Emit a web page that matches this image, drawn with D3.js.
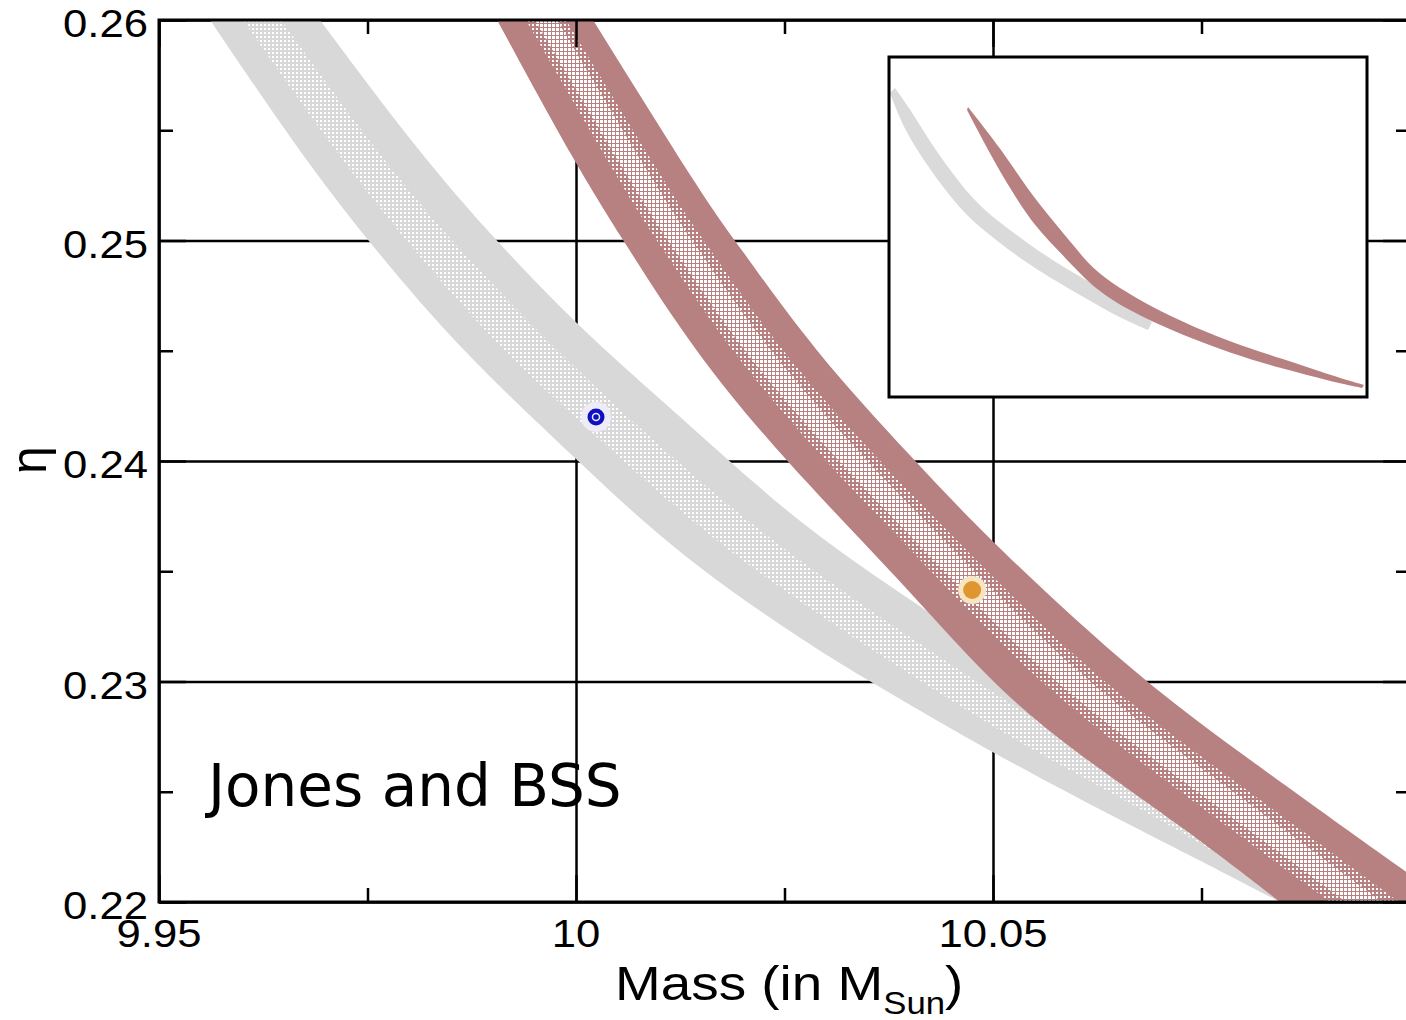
<!DOCTYPE html>
<meta charset="utf-8">
<title>Mass vs eta</title>
<style>

body {
  margin: 0;
  background: #fff;
}

svg {
  display: block;
  font-family: "Liberation Sans", Arial, sans-serif;
}

.grid line {
  stroke: #000;
  stroke-width: 2.5;
}

.grid path {
  display: none;
}

.ticks line {
  stroke: #000;
  stroke-width: 2.5;
}

</style>
<body>
<script src="https://d3js.org/d3.v7.min.js"></script>
<script>

// axis values
var xMajor = [9.95, 10, 10.05, 10.1];
var xMinor = [9.975, 10.025, 10.075];
var yMajor = [0.22, 0.23, 0.24, 0.25, 0.26];
var yMinor = [0.225, 0.235, 0.245, 0.255];
var xLabels = ["9.95", "10", "10.05"];
var yLabels = ["0.22", "0.23", "0.24", "0.25", "0.26"];

// grey band (mass, eta) edges
var greyUpper = [[9.96930, 0.26], [9.98094, 0.25410], [9.99029, 0.25002], [10.00012, 0.24617],
  [10.00887, 0.24322], [10.01811, 0.24009], [10.02686, 0.23719], [10.03645, 0.23460],
  [10.05084, 0.23098], [10.06882, 0.22689], [10.08681, 0.22281], [10.09952, 0.22009]];
var greyLower = [[9.95612, 0.26], [9.96667, 0.25410], [9.97494, 0.25002], [9.98609, 0.24503],
  [10.00012, 0.24005], [10.01247, 0.23565], [10.02890, 0.23143], [10.03561, 0.22993],
  [10.04988, 0.22676], [10.06679, 0.22340], [10.07638, 0.22159], [10.08441, 0.22]];
var greyCoreUpper = [[9.96463, 0.26], [9.97590, 0.25410], [9.98489, 0.25002], [9.99748, 0.24503],
  [10.01175, 0.24005], [10.02566, 0.23565], [10.04820, 0.22993], [10.06139, 0.22676],
  [10.07782, 0.22340], [10.09161, 0.22009]];
var greyCoreLower = [[9.96007, 0.26], [9.97098, 0.25410], [9.97950, 0.25002], [9.99089, 0.24503],
  [10.00552, 0.24005], [10.01859, 0.23565], [10.04149, 0.22993], [10.05516, 0.22676],
  [10.07194, 0.22340], [10.08561, 0.22009]];

// brown band edges
var brownUpper = [[10.00204, 0.26], [10.01547, 0.25184], [10.01906, 0.25002], [10.02842, 0.24503],
  [10.04041, 0.24009], [10.04988, 0.23628], [10.06799, 0.22998], [10.08082, 0.22644],
  [10.09964, 0.22132], [10.1048, 0.22]];
var brownLower = [[9.99053, 0.26], [10.00012, 0.25333], [10.00564, 0.25002], [10.01403, 0.24503],
  [10.02482, 0.24009], [10.03885, 0.23460], [10.04964, 0.22998], [10.05887, 0.22703],
  [10.07326, 0.22327], [10.08441, 0.22]];
var brownCoreUpper = [[9.99880, 0.26], [10.01187, 0.25184], [10.01535, 0.25002], [10.02434, 0.24503],
  [10.03609, 0.24009], [10.05024, 0.23460], [10.06283, 0.22998], [10.07878, 0.22553],
  [10.09868, 0.22]];
var brownCoreLower = [[9.99400, 0.26], [10.00647, 0.25184], [10.00971, 0.25002], [10.01835, 0.24503],
  [10.02950, 0.24009], [10.04365, 0.23460], [10.05516, 0.22998], [10.07050, 0.22553],
  [10.09041, 0.22]];
var brownMidUpper = [[9.99772, 0.26], [10.01055, 0.25184], [10.01391, 0.25002], [10.02290, 0.24503],
  [10.03453, 0.24009], [10.04868, 0.23460], [10.06103, 0.22998], [10.07686, 0.22553],
  [10.09664, 0.22]];
var brownMidLower = [[9.99508, 0.26], [10.00779, 0.25184], [10.01103, 0.25002], [10.01978, 0.24503],
  [10.03106, 0.24009], [10.04520, 0.23460], [10.05695, 0.22998], [10.07254, 0.22553],
  [10.09233, 0.22]];

// marked points
var bluePoint = [10.0024, 0.2420];
var orangePoint = [10.0475, 0.23415];

// inset (wider view)
var insetMass = [9.9, 10.5];
var insetEta = [0.16, 0.27];
var insetGreyUpper = [[9.90753, 0.25997], [9.92887, 0.25221], [9.94770, 0.24412], [9.96904, 0.23603],
  [9.99163, 0.22826], [10.01673, 0.22115], [10.04309, 0.21565], [10.07196, 0.21015],
  [10.10460, 0.20432], [10.13849, 0.19915], [10.16987, 0.19462], [10.20000, 0.18976],
  [10.23012, 0.18426]];
var insetGreyLower = [[9.90126, 0.25835], [9.91506, 0.24897], [9.93264, 0.24088], [9.95397, 0.23279],
  [9.97531, 0.22535], [10.00042, 0.21791], [10.02803, 0.21209], [10.05690, 0.20626],
  [10.09456, 0.19979], [10.12845, 0.19462], [10.15983, 0.19009], [10.19247, 0.18524],
  [10.22510, 0.18168]];
var insetBrownUpper = [[9.99916, 0.25382], [10.04184, 0.23991], [10.07447, 0.22697], [10.10711, 0.21662],
  [10.13221, 0.20885], [10.15857, 0.20044], [10.20878, 0.19203], [10.26777, 0.18426],
  [10.32802, 0.17779], [10.39455, 0.17229], [10.45354, 0.16712], [10.49622, 0.16388]];
var insetBrownLower = [[9.99791, 0.25285], [10.02552, 0.23926], [10.05439, 0.22632], [10.08451, 0.21468],
  [10.11715, 0.20626], [10.16234, 0.19365], [10.21506, 0.18621], [10.26777, 0.18006],
  [10.32802, 0.17424], [10.39455, 0.16906], [10.45354, 0.16518], [10.49371, 0.16291]];

var grey = "#d8d8d8",
    brown = "#b88181";

var margin = {top: 20, left: 159},
    width = 1251,
    height = 882;

var x = d3.scaleLinear()
    .domain([9.95, 10.1])
    .range([margin.left, margin.left + width]);

var y = d3.scaleLinear()
    .domain([0.22, 0.26])
    .range([margin.top + height, margin.top]);

var inset = {x: 889, y: 57, w: 478, h: 340};

var ix = d3.scaleLinear()
    .domain(insetMass)
    .range([inset.x, inset.x + inset.w]);

var iy = d3.scaleLinear()
    .domain(insetEta)
    .range([inset.y + inset.h, inset.y]);

var svg = d3.select("body").append("svg")
    .attr("width", 1406)
    .attr("height", 1020);

var defs = svg.append("defs");

defs.append("clipPath")
    .attr("id", "plotclip")
  .append("rect")
    .attr("x", margin.left)
    .attr("y", margin.top)
    .attr("width", width)
    .attr("height", height);

defs.append("clipPath")
    .attr("id", "insetclip")
  .append("rect")
    .attr("x", inset.x)
    .attr("y", inset.y)
    .attr("width", inset.w)
    .attr("height", inset.h);

function dotPattern(id, base, dot) {
  var p = defs.append("pattern")
      .attr("id", id)
      .attr("patternUnits", "userSpaceOnUse")
      .attr("width", 4)
      .attr("height", 4);
  p.append("rect").attr("width", 4).attr("height", 4).attr("fill", base);
  p.append("rect").attr("width", dot).attr("height", dot).attr("fill", "#fff");
}
dotPattern("greydots", grey, 2);
dotPattern("browndots", brown, 2);
dotPattern("brownmid", brown, 3);

function bandPath(sx, sy, upper, lower) {
  var line = d3.line()
      .x(function(d) { return sx(d[0]); })
      .y(function(d) { return sy(d[1]); })
      .curve(d3.curveBasis);
  var a = line(upper),
      b = line(lower.slice().reverse());
  return a + "L" + b.slice(1) + "Z";
}

// gridlines, under the bands
svg.append("g")
    .attr("class", "grid")
    .attr("transform", "translate(0," + (margin.top + height) + ")")
    .call(d3.axisBottom(x).tickValues(xMajor).tickSize(-height).tickFormat(""));

svg.append("g")
    .attr("class", "grid")
    .attr("transform", "translate(" + margin.left + ",0)")
    .call(d3.axisLeft(y).tickValues(yMajor).tickSize(-width).tickFormat(""));

var plot = svg.append("g").attr("clip-path", "url(#plotclip)");

plot.append("path")
    .attr("d", bandPath(x, y, greyUpper, greyLower))
    .attr("fill", grey);
plot.append("path")
    .attr("d", bandPath(x, y, greyCoreUpper, greyCoreLower))
    .attr("fill", "url(#greydots)");

plot.append("path")
    .attr("d", bandPath(x, y, brownUpper, brownLower))
    .attr("fill", brown);
plot.append("path")
    .attr("d", bandPath(x, y, brownCoreUpper, brownCoreLower))
    .attr("fill", "url(#browndots)");
plot.append("path")
    .attr("d", bandPath(x, y, brownMidUpper, brownMidLower))
    .attr("fill", "url(#brownmid)");

// points
var bx = x(bluePoint[0]), by = y(bluePoint[1]);
plot.append("circle")
    .attr("cx", bx).attr("cy", by)
    .attr("r", 15)
    .attr("fill", "#eeecf8");
plot.append("circle")
    .attr("cx", bx).attr("cy", by)
    .attr("r", 8.5)
    .attr("fill", "#1010c0");
plot.append("circle")
    .attr("cx", bx).attr("cy", by)
    .attr("r", 3.5)
    .attr("fill", "none")
    .attr("stroke", "#e8e8ff")
    .attr("stroke-width", 1.5);

var ox = x(orangePoint[0]), oy = y(orangePoint[1]);
plot.append("circle")
    .attr("cx", ox).attr("cy", oy)
    .attr("r", 14)
    .attr("fill", "#f6e4c2");
plot.append("circle")
    .attr("cx", ox).attr("cy", oy)
    .attr("r", 9)
    .attr("fill", "#e0952f");

// inset
svg.append("rect")
    .attr("x", inset.x)
    .attr("y", inset.y)
    .attr("width", inset.w)
    .attr("height", inset.h)
    .attr("fill", "#fff");

var ig = svg.append("g").attr("clip-path", "url(#insetclip)");
ig.append("path")
    .attr("d", bandPath(ix, iy, insetGreyUpper, insetGreyLower))
    .attr("fill", "#dadada");
ig.append("path")
    .attr("d", bandPath(ix, iy, insetBrownUpper, insetBrownLower))
    .attr("fill", brown);

svg.append("rect")
    .attr("x", inset.x)
    .attr("y", inset.y)
    .attr("width", inset.w)
    .attr("height", inset.h)
    .attr("fill", "none")
    .attr("stroke", "#000")
    .attr("stroke-width", 3);

// frame and ticks on top
svg.append("rect")
    .attr("x", margin.left)
    .attr("y", margin.top)
    .attr("width", width)
    .attr("height", height)
    .attr("fill", "none")
    .attr("stroke", "#000")
    .attr("stroke-width", 3);

function ticks(axis, vals, len, tr) {
  svg.append("g")
      .attr("class", "ticks")
      .attr("transform", tr)
      .call(axis.tickValues(vals).tickSize(-len).tickFormat(""))
      .call(function(g) { g.select(".domain").remove(); });
}
var bottomT = "translate(0," + (margin.top + height) + ")",
    topT = "translate(0," + margin.top + ")",
    leftT = "translate(" + margin.left + ",0)",
    rightT = "translate(" + (margin.left + width) + ",0)";

ticks(d3.axisBottom(x), xMajor, 27, bottomT);
ticks(d3.axisBottom(x), xMinor, 14, bottomT);
ticks(d3.axisTop(x), xMajor, 27, topT);
ticks(d3.axisTop(x), xMinor, 14, topT);
ticks(d3.axisLeft(y), yMajor, 27, leftT);
ticks(d3.axisLeft(y), yMinor, 14, leftT);
ticks(d3.axisRight(y), yMajor, 27, rightT);
ticks(d3.axisRight(y), yMinor, 14, rightT);

// tick labels
svg.append("g").selectAll("text")
    .data(yMajor)
  .enter().append("text")
    .attr("transform", function(d) { return "translate(148," + (y(d) + 17) + ") scale(1.12,1)"; })
    .attr("text-anchor", "end")
    .attr("font-size", 39)
    .text(function(d, i) { return yLabels[i]; });

svg.append("g").selectAll("text")
    .data(xLabels)
  .enter().append("text")
    .attr("transform", function(d, i) { return "translate(" + x(xMajor[i]) + ",947) scale(1.12,1)"; })
    .attr("text-anchor", "middle")
    .attr("font-size", 39)
    .text(function(d) { return d; });

// axis titles
var xt = svg.append("text")
    .attr("transform", "translate(615,1000) scale(1.12,1)")
    .attr("font-size", 49);
xt.append("tspan").text("Mass (in M");
xt.append("tspan").attr("font-size", 31).attr("dy", 14).text("Sun");
xt.append("tspan").attr("dy", -14).text(")");

svg.append("text")
    .attr("transform", "translate(46,460) rotate(-90)")
    .attr("text-anchor", "middle")
    .attr("font-size", 50)
    .text("η");

svg.append("text")
    .attr("x", 208)
    .attr("y", 806)
    .attr("font-family", "'DejaVu Sans', Verdana, sans-serif")
    .attr("font-size", 58)
    .text("Jones and BSS");

</script>
